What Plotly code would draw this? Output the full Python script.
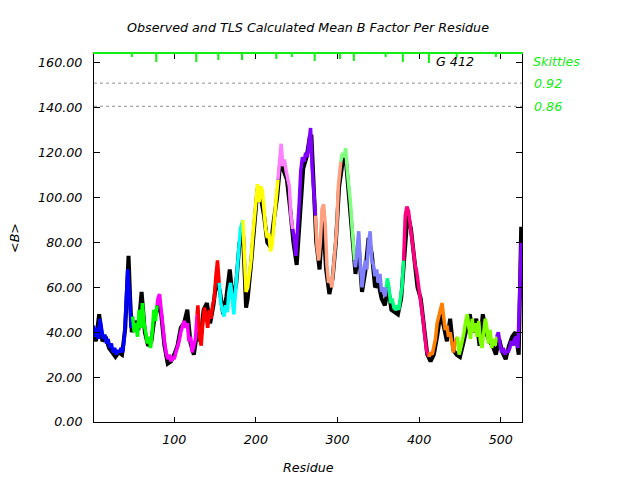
import plotly.graph_objects as go

# ---------------- data ----------------
obs_res = [1, 4, 8, 12, 16, 20, 24, 28, 32, 36, 40, 42, 44, 46, 48, 52, 56, 60, 64, 68, 72, 76,
           80, 84, 88, 92, 96, 100, 104, 108, 112, 116, 120, 124, 128, 132, 136, 140, 144, 148,
           152, 156, 160, 164, 168, 172, 176, 180, 184, 188, 190, 194, 198, 202, 206, 210, 214,
           218, 222, 226, 230, 234, 238, 242, 246, 250, 254, 258, 262, 266, 268, 270, 274, 278,
           282, 286, 290, 294, 298, 302, 306, 310, 314, 318, 322, 326, 330, 334, 338, 342, 346,
           350, 354, 358, 362, 366, 370, 374, 378, 382, 386, 390, 394, 398, 402, 406, 410, 414,
           418, 422, 426, 430, 434, 438, 442, 446, 450, 454, 458, 462, 466, 470, 474, 478, 482,
           486, 490, 494, 498, 502, 506, 510, 514, 518, 522, 525]
obs_b = [40, 36, 48, 36, 38, 33, 31, 29, 31, 30, 42, 62, 74, 55, 40, 45, 41, 58, 40, 34, 36, 47,
         52, 48, 34, 26, 27, 30, 34, 42, 44, 50, 35, 30, 40, 36, 50, 53, 44, 52,
         64, 58, 48, 56, 68, 54, 62, 80, 86, 51, 55, 70, 88, 104, 100, 92, 80,
         78, 90, 100, 116, 112, 108, 95, 80, 70, 92, 113, 118, 127, 128, 108, 80, 68,
         92, 68, 57, 64, 80, 105, 115, 118, 100, 82, 66, 78, 58, 67, 82, 75, 60,
         62, 55, 52, 60, 50, 49, 48, 55, 72, 93, 86, 72, 60, 55, 42, 30, 27,
         30, 38, 48, 43, 36, 46, 32, 30, 29, 35, 42, 48, 40, 46, 34, 48, 40,
         36, 34, 30, 37, 31, 28, 34, 38, 40, 30, 87]

tls_res = [1, 3, 5, 7, 9, 11, 13, 15, 17, 19, 21, 23, 25, 27, 29, 31, 33, 35, 37, 39, 41, 43, 45, 47,
           49, 51, 53, 55, 57, 59, 61, 63, 65, 67, 69, 71, 73, 75, 77,
           79, 80, 82, 84, 86, 88, 90, 92, 94, 96, 98, 100, 102, 104, 106, 108, 110, 112, 114, 116,
           118, 120, 122, 124, 126,
           128, 129, 131, 133, 135, 137, 139, 141, 143, 145, 147, 149, 151, 153,
           155, 157, 159, 161, 163, 165, 167, 169, 171, 173, 175, 177, 179, 181,
           184, 186, 188, 190, 192, 194, 196, 198, 200, 202, 204, 206, 208, 210, 212, 214, 216, 218,
           220, 222, 224,
           227, 229, 231, 233, 235, 237, 239, 241, 243,
           245, 247, 249, 251, 253, 255, 257, 259, 261, 263, 265, 267, 269, 271,
           273, 275, 277, 279, 281, 283, 285, 287, 289, 291, 293, 295, 297, 299, 301,
           304, 306, 308, 310, 312, 314, 316, 318,
           321, 322, 324, 326, 328, 330, 332, 334, 336, 338, 340, 342, 344, 346, 348, 350, 352, 354,
           356, 358,
           360, 361, 363, 365, 367, 369, 371, 373, 375, 377, 379,
           381, 383, 385, 387, 389, 391, 393, 395, 397, 399, 401, 403, 405, 407, 409,
           412, 414, 416, 418, 420, 422, 424, 426, 428, 430, 432, 434, 436, 438, 440, 442, 444,
           447, 449, 451, 453, 455, 457, 459, 461, 463, 465, 467, 469, 471, 473, 475, 477, 479, 481,
           483, 485, 487, 489, 491, 493,
           495, 497, 499, 501, 503, 505, 507, 509, 511, 513, 515, 517, 519, 521, 523, 525]
tls_b = [43, 38, 42, 37, 46, 40, 37, 39, 35, 37, 33, 35, 31, 33, 30, 32, 31, 33, 31, 38, 50, 68, 58, 42,
         47, 40, 44, 38, 50, 42, 53, 44, 40, 35, 38, 33, 40, 50, 45,
         52, 55, 57, 50, 40, 36, 31, 28, 30, 27, 29, 28, 31, 33, 36, 40, 43, 45, 42, 44,
         36, 38, 31, 35, 37,
         48, 52, 38, 34, 44, 51, 47, 42, 50, 46, 52, 55, 65, 72,
         62, 53, 50, 47, 52, 49, 58, 62, 55, 48, 58, 68, 78, 86,
         90, 70, 58, 60, 65, 72, 82, 90, 100, 106, 98, 105, 103, 93, 86, 82, 84, 76,
         79, 88, 96,
         108, 118, 124, 114, 117, 112, 108, 105, 92,
         86, 82, 74, 84, 97, 112, 118, 116, 120, 118, 125, 131, 113, 102,
         92, 78, 72, 80, 95, 97, 88, 70, 62, 64, 60, 68, 74, 86, 105,
         116, 120, 118, 122, 112, 105, 97, 86,
         72, 69, 77, 85, 70, 60, 66, 72, 68, 80, 85, 72, 70, 65, 68, 62, 66, 58,
         60, 56,
         60, 64, 60, 53, 55, 51, 50, 52, 50, 54, 60,
         72, 92, 96, 94, 88, 82, 74, 70, 67, 62, 57, 52, 45, 38, 32,
         29, 31, 30, 33, 37, 44, 48, 50, 53, 45, 41, 43, 38, 40, 36, 31, 35,
         38, 30, 33, 36, 40, 45, 48, 42, 37, 46, 40, 44, 38, 45, 36, 33, 40, 46,
         42, 35, 41, 33, 37, 34,
         38, 40, 35, 31, 33, 30, 32, 31, 33, 36, 34, 37, 38, 33, 55, 80]

# TLS group boundaries (first residue of each group, plus end)
seg_bounds = [1, 48, 78, 127, 154, 183, 225, 244, 272, 303, 320, 359, 380, 412, 446, 494, 527]
seg_colors = ['#0000ff', '#00ff00', '#ff00ff', '#ff0000', '#00ffff', '#ffff00', '#ff80ff',
              '#8000ff', '#ffa080', '#80ff80', '#8080ff', '#00ff80', '#ff0080', '#ff8000',
              '#80ff00', '#8000ff']
# length (px) of the green boundary marks at the top
mark_len = [3, 8, 8, 6, 6, 5, 3, 7, 5, 7, 3, 8, 9, 3, 3]

skittle_levels = [151, 140.7]
skittle_labels = ['0.92', '0.86']
x_ticks = [100, 200, 300, 400, 500]
y_ticks = [0, 20, 40, 60, 80, 100, 120, 140, 160]

FONT = 'DejaVu Sans'
GREEN = '#11ee11'

fig = go.Figure()

fig.add_trace(go.Scatter(x=obs_res, y=obs_b, mode='lines',
                         line=dict(color='black', width=4), showlegend=False, hoverinfo='skip'))

n = len(seg_colors)
for i in range(n):
    lo, hi = seg_bounds[i], seg_bounds[i + 1]
    xs = [r for r in tls_res if lo <= r < hi]
    ys = [b for r, b in zip(tls_res, tls_b) if lo <= r < hi]
    nxt = [(r, b) for r, b in zip(tls_res, tls_b) if r >= hi]
    if nxt:
        xs.append(nxt[0][0])
        ys.append(nxt[0][1])
    fig.add_trace(go.Scatter(x=xs, y=ys, mode='lines',
                             line=dict(color=seg_colors[i], width=3.5),
                             showlegend=False, hoverinfo='skip'))

# invisible trace for top axis
fig.add_trace(go.Scatter(x=[seg_bounds[0]], y=[0], xaxis='x2', mode='markers',
                         marker=dict(opacity=0), showlegend=False, hoverinfo='skip'))

shapes = []
for lvl in skittle_levels:
    shapes.append(dict(type='line', xref='paper', yref='y', x0=0, x1=1, y0=lvl, y1=lvl,
                       line=dict(color='#909090', width=1, dash='dot')))
for b, L in zip(seg_bounds[1:-1], mark_len):
    shapes.append(dict(type='line', xref='x', yref='paper', x0=b, x1=b, y0=1, y1=1 - L / 368,
                       line=dict(color=GREEN, width=2)))

annotations = [
    dict(text='Observed and TLS Calculated Mean B Factor Per Residue', xref='paper', yref='paper',
         x=0.5, y=1, yshift=27, yanchor='middle', showarrow=False,
         font=dict(family=FONT, size=12.7, color='black', style='italic')),
    dict(text='Residue', xref='paper', yref='paper', x=0.5, y=0, yshift=-45, yanchor='middle',
         showarrow=False, font=dict(family=FONT, size=12.7, color='black', style='italic')),
    dict(text='<B>'.replace('<', '&lt;').replace('>', '&gt;'), xref='paper', yref='paper',
         x=0, xshift=-80, y=0.5, textangle=-90, xanchor='center', showarrow=False,
         font=dict(family=FONT, size=12.7, color='black', style='italic')),
    dict(text='Skittles', xref='paper', yref='paper', x=1, xshift=9, y=1, yshift=-7,
         xanchor='left', yanchor='middle', showarrow=False,
         font=dict(family=FONT, size=12.7, color=GREEN, style='italic')),
    dict(text='G 412', xref='paper', yref='paper', x=0.794, y=1, yshift=-7,
         xanchor='left', yanchor='middle', showarrow=False,
         font=dict(family=FONT, size=12.7, color='black', style='italic')),
]
for lvl, lab in zip(skittle_levels, skittle_labels):
    annotations.append(dict(text=lab, xref='paper', yref='y', x=1, xshift=10, y=lvl,
                            xanchor='left', yanchor='middle', showarrow=False,
                            font=dict(family=FONT, size=12.7, color=GREEN, style='italic')))

# page body has an 8px default margin: size/offset the figure to compensate
fig.update_layout(
    width=632, height=472,
    margin=dict(l=86, r=118, t=46, b=58, pad=0),
    paper_bgcolor='white', plot_bgcolor='white',
    font=dict(family=FONT, size=12.7, color='black'),
    shapes=shapes, annotations=annotations,
    xaxis=dict(range=[1.7, 526], tickvals=x_ticks, ticks='inside', ticklen=5, tickcolor='black',
               showline=True, linecolor='black', linewidth=1, mirror=False, showgrid=False,
               zeroline=False, tickfont=dict(family=FONT, size=12.7, style='italic'),
               ticklabelstandoff=6),
    xaxis2=dict(range=[1.7, 526], overlaying='x', side='top', tickvals=x_ticks, ticks='inside',
                ticklen=5, tickcolor='black', showticklabels=False, showline=True,
                linecolor=GREEN, linewidth=2, showgrid=False, zeroline=False),
    yaxis=dict(range=[0, 164], tickvals=y_ticks, tickformat='.2f', ticks='inside', ticklen=6,
               tickcolor='black', showline=True, linecolor='black', linewidth=1, mirror='ticks',
               showgrid=False, zeroline=False,
               tickfont=dict(family=FONT, size=12.7, style='italic'), ticklabelstandoff=8),
)

fig.write_html("out.html")
